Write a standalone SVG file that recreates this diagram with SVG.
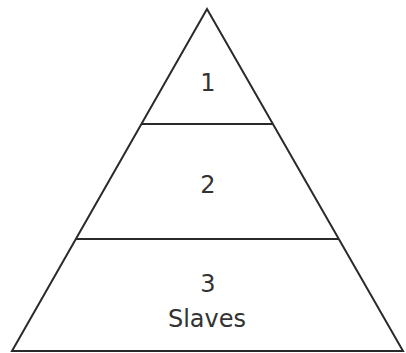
<svg xmlns="http://www.w3.org/2000/svg" width="406" height="353" viewBox="0 0 406 353">
<style>
.l{fill:none;stroke:#2a2a2a;stroke-width:2;stroke-linejoin:miter}
.t{font-family:"DejaVu Sans","Liberation Sans",sans-serif;font-size:24px;fill:#333;text-anchor:middle}
</style>
<rect width="406" height="353" fill="#fff"/>
<g id="pyramid">
<polygon class="l" points="207,9 12,351 403,351"/>
</g>
<g id="connectors">
<line class="l" x1="142" y1="124" x2="273" y2="124"/>
<line class="l" x1="76" y1="239" x2="339" y2="239"/>
</g>
<g id="level1"><text class="t" x="208" y="91">1</text></g>
<g id="level2"><text class="t" x="208" y="193">2</text></g>
<g id="level3"><text class="t" x="208" y="292">3</text><text class="t" x="207" y="327">Slaves</text></g>
</svg>
